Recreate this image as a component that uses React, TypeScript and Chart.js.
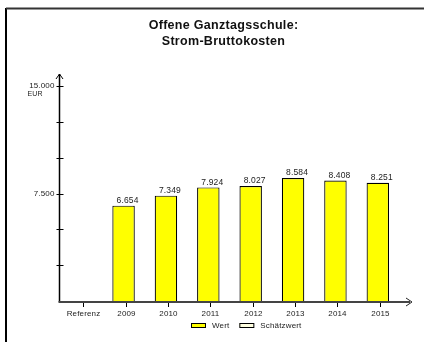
import React, { useEffect, useRef } from "react";
import { Chart, registerables } from "chart.js";

Chart.register(...registerables);

const titleLines = ["Offene Ganztagsschule:", "Strom-Bruttokosten"];
const categories = ["Referenz", "2009", "2010", "2011", "2012", "2013", "2014", "2015"];
const wertValues: (number | null)[] = [null, 6654, 7349, 7924, 8027, 8584, 8408, 8251];
const yMin = 0;
const yMax = 15000;
const yStep = 2500;
const yLabelledTicks = [7500, 15000];
const yUnit = "EUR";
const legendLabels = ["Wert", "Schätzwert"];
const legendColors = ["#ffff00", "#ffffe0"];

const FONT = "'Liberation Sans', Arial, Helvetica, sans-serif";

function fmt(n: number): string {
  return Math.round(n).toString().replace(/\B(?=(\d{3})+(?!\d))/g, ".");
}

const decorPlugin = {
  id: "decor",
  afterDraw(chart: any) {
    const ctx: any = chart.ctx;
    const xs = chart.scales.x;
    const ys = chart.scales.y;
    const area = chart.chartArea;
    ctx.save();

    // frame
    ctx.strokeStyle = "#000";
    ctx.lineWidth = 2;
    ctx.beginPath();
    ctx.moveTo(6, 342);
    ctx.lineTo(6, 8);
    ctx.stroke();
    ctx.strokeStyle = "#333";
    ctx.beginPath();
    ctx.moveTo(6, 8.5);
    ctx.lineTo(424, 8.5);
    ctx.stroke();

    // title
    ctx.fillStyle = "#111";
    ctx.font = `bold 12.5px ${FONT}`;
    ctx.letterSpacing = "0.3px";
    ctx.textAlign = "center";
    ctx.textBaseline = "middle";
    titleLines.forEach((t: string, i: number) => ctx.fillText(t, 223.5, 26 + i * 16));
    ctx.letterSpacing = "0.15px";

    // y axis
    const yAxisX = area.left - 0.5;
    const yTop = ys.getPixelForValue(yMax) - 12;
    ctx.strokeStyle = "#000";
    ctx.lineWidth = 1.5;
    ctx.beginPath();
    ctx.moveTo(yAxisX, area.bottom + 1);
    ctx.lineTo(yAxisX, yTop);
    ctx.stroke();
    ctx.lineWidth = 1;
    ctx.beginPath();
    ctx.moveTo(yAxisX - 3.5, yTop + 5);
    ctx.lineTo(yAxisX, yTop);
    ctx.lineTo(yAxisX + 3.5, yTop + 5);
    ctx.stroke();
    for (let v = yMin; v <= yMax; v += yStep) {
      if (v === yMin) continue;
      const py = Math.round(ys.getPixelForValue(v)) + 0.5;
      ctx.beginPath();
      ctx.moveTo(yAxisX - 3, py);
      ctx.lineTo(yAxisX + 4, py);
      ctx.stroke();
    }
    ctx.fillStyle = "#222";
    ctx.font = `8px ${FONT}`;
    ctx.textAlign = "right";
    ctx.textBaseline = "middle";
    yLabelledTicks.forEach((v) => {
      ctx.fillText(fmt(v), yAxisX - 5, ys.getPixelForValue(v));
    });
    ctx.font = `7px ${FONT}`;
    ctx.textAlign = "center";
    ctx.fillText(yUnit, 35, ys.getPixelForValue(yMax) + 8);

    // x axis
    const xAxisY = area.bottom + 1;
    ctx.strokeStyle = "#444";
    ctx.lineWidth = 2;
    ctx.beginPath();
    ctx.moveTo(yAxisX - 1, xAxisY);
    ctx.lineTo(area.right + 11, xAxisY);
    ctx.stroke();
    ctx.lineWidth = 1;
    ctx.strokeStyle = "#222";
    ctx.beginPath();
    ctx.moveTo(area.right + 7, xAxisY - 4);
    ctx.lineTo(area.right + 13, xAxisY);
    ctx.lineTo(area.right + 7, xAxisY + 4);
    ctx.stroke();

    ctx.font = `8px ${FONT}`;
    ctx.textAlign = "center";
    ctx.textBaseline = "middle";
    categories.forEach((c, i) => {
      const px = Math.round(xs.getPixelForValue(i) + 2) + 0.5;
      ctx.strokeStyle = "#000";
      ctx.beginPath();
      ctx.moveTo(px, xAxisY + 1);
      ctx.lineTo(px, xAxisY + 5);
      ctx.stroke();
      ctx.fillStyle = "#222";
      ctx.fillText(c, px, xAxisY + 12);
    });

    // value labels
    ctx.font = `8.5px ${FONT}`;
    ctx.textBaseline = "alphabetic";
    const meta = chart.getDatasetMeta(0);
    wertValues.forEach((v, i) => {
      if (v == null) return;
      const el = meta.data[i];
      ctx.fillStyle = "#222";
      ctx.fillText(fmt(v), el.x + 4, el.y - 2.5);
    });

    // legend
    ctx.font = `8px ${FONT}`;
    let lx = 191;
    const ly = 323;
    ctx.textAlign = "left";
    ctx.textBaseline = "middle";
    legendLabels.forEach((lab, i) => {
      ctx.fillStyle = legendColors[i];
      ctx.fillRect(lx, ly, 14, 4);
      ctx.strokeStyle = "#000";
      ctx.lineWidth = 1;
      ctx.strokeRect(lx + 0.5, ly + 0.5, 14, 4);
      ctx.fillStyle = "#222";
      ctx.fillText(lab, lx + 21, ly + 2.5);
      lx += 21 + ctx.measureText(lab).width + 10;
    });

    ctx.restore();
  },
};

export default function App() {
  const ref = useRef<HTMLCanvasElement | null>(null);
  useEffect(() => {
    document.body.style.margin = "0";
    const canvas = ref.current!;
    const chart = new Chart(canvas, {
      type: "bar",
      data: {
        labels: categories,
        datasets: [
          {
            label: legendLabels[0],
            data: wertValues,
            backgroundColor: legendColors[0],
            borderColor: "#000",
            borderWidth: 1.2,
            barPercentage: 0.53,
            categoryPercentage: 1,
          },
        ],
      },
      options: {
        animation: false,
        responsive: false,
        devicePixelRatio: 1,
        layout: { padding: { left: 60, right: 25, top: 86, bottom: 41 } },
        plugins: { legend: { display: false }, title: { display: false }, tooltip: { enabled: false } },
        scales: {
          x: { type: "category", display: false, offset: true, grid: { display: false } },
          y: { type: "linear", display: false, min: yMin, max: yMax, grid: { display: false } },
        },
      },
      plugins: [decorPlugin],
    });
    return () => chart.destroy();
  }, []);
  return (
    <div style={{ width: 424, height: 342, background: "#fff" }}>
      <canvas ref={ref} width={424} height={342} style={{ display: "block", width: 424, height: 342 }} />
    </div>
  );
}
